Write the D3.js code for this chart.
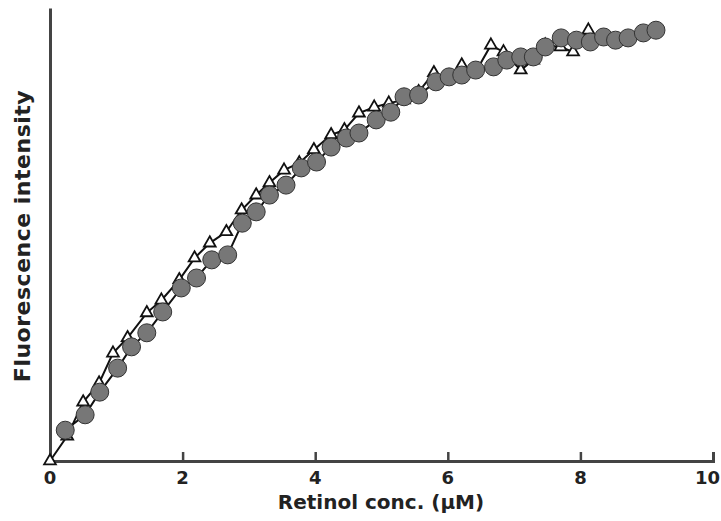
<!DOCTYPE html>
<html>
<head>
<meta charset="utf-8">
<script src="https://cdn.jsdelivr.net/npm/d3@7"></script>
<style>
  body { margin: 0; background: #fff; }
  text { font-family: "DejaVu Sans", "Liberation Sans", Arial, sans-serif; }
</style>
</head>
<body>
<script>
// circles series (retinol conc. uM, fluorescence a.u.)
const circleX = [0.23,0.53,0.75,1.02,1.23,1.46,1.70,1.98,2.21,2.44,2.68,2.90,3.11,3.31,3.56,3.79,4.02,4.24,4.47,4.66,4.92,5.14,5.34,5.56,5.82,6.02,6.21,6.42,6.69,6.89,7.10,7.29,7.47,7.71,7.94,8.15,8.35,8.53,8.72,8.95,9.14];
const circleY = [6.8,10.2,15.2,20.5,25.2,28.3,32.9,38.2,40.4,44.4,45.5,52.5,55.0,58.7,60.9,64.7,66.0,69.3,71.3,72.4,75.3,77.0,80.4,80.8,83.7,84.8,85.2,86.3,87.0,88.5,89.2,89.2,91.4,93.4,92.9,92.5,93.6,92.9,93.4,94.5,95.1];
// triangles series
const triX = [0,0.26,0.50,0.74,0.95,1.17,1.46,1.68,1.95,2.18,2.41,2.66,2.89,3.11,3.31,3.53,3.76,3.98,4.24,4.44,4.66,4.89,5.11,5.34,5.56,5.79,6.00,6.21,6.42,6.65,6.84,7.10,7.29,7.47,7.70,7.89,8.12];
const triY = [0,5.5,13.0,17.2,23.8,27.2,32.7,35.5,40.0,44.8,48.1,50.6,55.4,58.7,61.4,64.2,65.8,68.7,72.0,73.1,76.8,78.1,79.0,79.7,81.5,85.7,84.5,87.4,85.9,91.8,90.3,86.3,88.5,91.8,91.4,90.3,95.1];
const xTicks = [0,2,4,6,8,10];

const w = 721, h = 521;
const x0 = 50, x1 = 713, yBase = 461, yTop = 8;

const svg = d3.select("body").append("svg")
  .attr("width", w).attr("height", h);

const xScale = d3.scaleLinear().domain([0, 10]).range([x0, x1]);
const yScale = d3.scaleLinear().domain([0, 100]).range([yBase, yTop]);

// x axis, ticks pointing inward
const xAxis = d3.axisBottom(xScale).tickValues(xTicks.slice(1)).tickSize(-9).tickFormat("");
const gx = svg.append("g").attr("transform", "translate(0," + yBase + ")").call(xAxis);
gx.select(".domain").attr("stroke", "#444").attr("stroke-width", 3);
gx.selectAll(".tick line").attr("stroke", "#444").attr("stroke-width", 2.5);

svg.selectAll("text.xt")
  .data(xTicks)
  .enter().append("text")
  .attr("class", "xt")
  .attr("x", d => d === 10 ? w - 1 : xScale(d))
  .attr("y", yBase + 23)
  .attr("text-anchor", d => d === 10 ? "end" : "middle")
  .attr("font-size", 18).attr("font-weight", "bold").attr("fill", "#222")
  .text(d => d);

// y axis, no ticks
const yAxis = d3.axisLeft(yScale).tickValues([]).tickSize(0);
const gy = svg.append("g").attr("transform", "translate(" + x0 + ",0)").call(yAxis);
gy.select(".domain").attr("stroke", "#444").attr("stroke-width", 3);

svg.append("text")
  .attr("x", 381).attr("y", 509)
  .attr("text-anchor", "middle")
  .attr("font-size", 20).attr("font-weight", "bold").attr("fill", "#222")
  .text("Retinol conc. (\u03bcM)");

svg.append("text")
  .attr("transform", "translate(30,236) rotate(-90)")
  .attr("text-anchor", "middle")
  .attr("font-size", 22).attr("font-weight", "bold").attr("fill", "#222")
  .attr("letter-spacing", 0.5)
  .text("Fluorescence intensity");

const line = d3.line().x(d => xScale(d[0])).y(d => yScale(d[1]));
const triData = triX.map((v, i) => [v, triY[i]]);
const cirData = circleX.map((v, i) => [v, circleY[i]]);

// triangles
svg.append("path").datum(triData).attr("d", line)
  .attr("fill", "none").attr("stroke", "#111").attr("stroke-width", 2);
const tri = d3.symbol().type(d3.symbolTriangle).size(60);
svg.selectAll("path.tri")
  .data(triData)
  .enter().append("path")
  .attr("class", "tri")
  .attr("d", tri)
  .attr("transform", d => "translate(" + xScale(d[0]) + "," + yScale(d[1]) + ")")
  .attr("fill", "#fff").attr("stroke", "#111").attr("stroke-width", 1.8);

// circles
svg.append("path").datum(cirData).attr("d", line)
  .attr("fill", "none").attr("stroke", "#111").attr("stroke-width", 2);
svg.selectAll("circle.c")
  .data(cirData)
  .enter().append("circle")
  .attr("class", "c")
  .attr("cx", d => xScale(d[0]))
  .attr("cy", d => yScale(d[1]))
  .attr("r", 9)
  .attr("fill", "#777").attr("stroke", "#333").attr("stroke-width", 1);
</script>
</body>
</html>
